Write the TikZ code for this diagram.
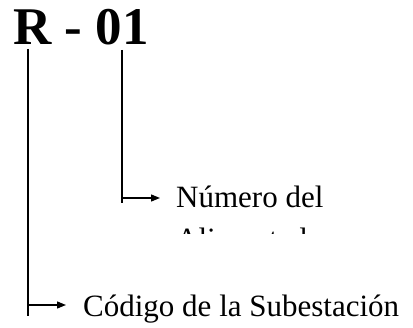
\documentclass[tikz,border=0pt]{standalone}
\usepackage{fontspec}
\setmainfont{Liberation Serif}
\usetikzlibrary{arrows.meta}
\begin{document}
\begin{tikzpicture}[x=1pt,y=-1pt,
  lead/.style={line width=1.3pt},
  conn/.style={line width=1.3pt,-{Triangle[length=9pt,width=7pt]}},
  bigcode/.style={anchor=base west,inner sep=0pt,font=\fontsize{53}{60}\selectfont\bfseries},
  lbl/.style={anchor=base west,inner sep=0pt,font=\fontsize{31}{39}\selectfont}]
\useasboundingbox (0,0) rectangle (413,328);
\node[bigcode] (code) at (13,45) {R - 01};
\coordinate (rtop) at (28,49);
\coordinate (ntop) at (122,50);
\coordinate (rbot) at (28,316);
\coordinate (nbot) at (122,203);
\coordinate (rknee) at (28,305);
\coordinate (nknee) at (122,198);
\node[lbl] (sub) at (83,317) {Código de la Subestación};
\node[lbl] (num) at (176,208) {Número del};
\begin{scope}
\clip (0,0) rectangle (413,234);
\node[lbl] (alim) at (176,250) {Alimentador};
\end{scope}
\coordinate (rtip) at (66,305);
\coordinate (ntip) at (160,198);
\draw[lead] (rtop) -- (rbot);
\draw[lead] (ntop) -- (nbot);
\draw[conn] (rknee) -- (rtip);
\draw[conn] (nknee) -- (ntip);
\end{tikzpicture}
\end{document}
